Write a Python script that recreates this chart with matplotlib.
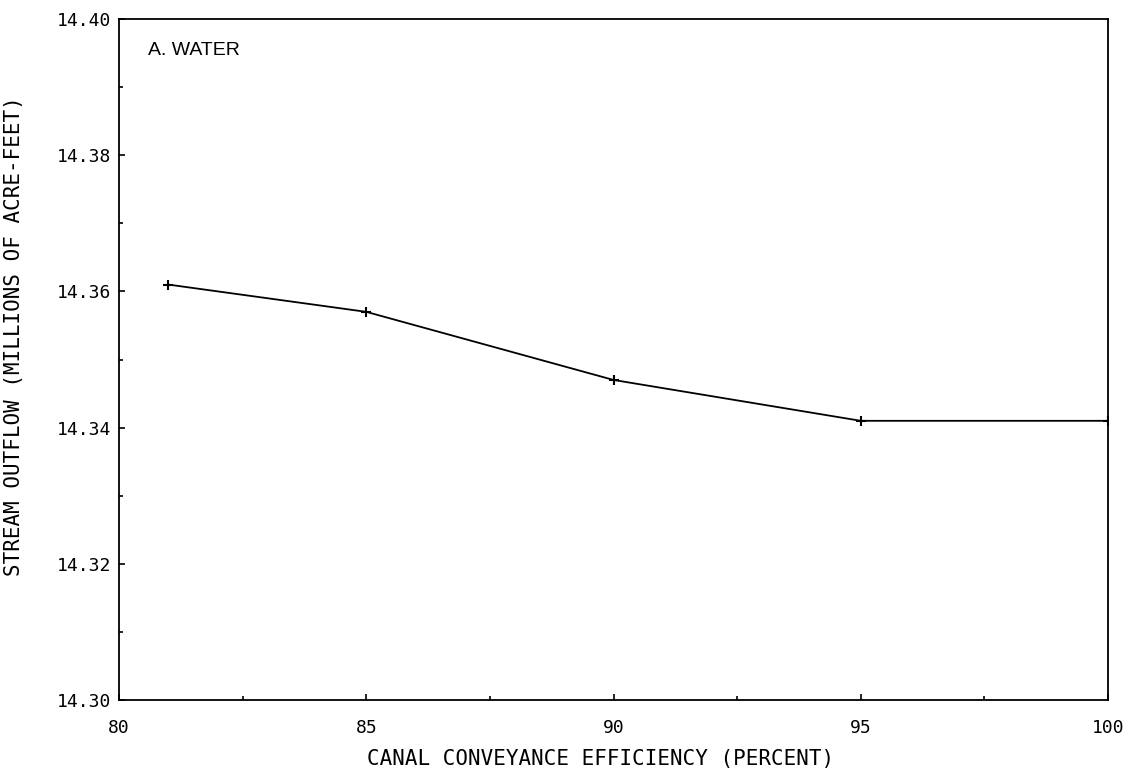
import numpy as np
import matplotlib.pyplot as plt
from matplotlib.ticker import MultipleLocator

# canal conveyance efficiency (percent) vs stream outflow (million acre-feet)
efficiency = [81, 85, 90, 95, 100]
outflow = [14.361, 14.357, 14.347, 14.341, 14.341]

mono = 'DejaVu Sans Mono'
fs = 13

fig = plt.figure(figsize=(11.37, 7.76), dpi=100)
ax = fig.add_axes([0.1047, 0.0979, 0.8698, 0.8776])

ax.plot(efficiency, outflow, color='black', lw=1.3, marker='+', ms=7, mew=1.5)

ax.set_xlim(80, 100)
ax.set_ylim(14.30, 14.40)
ax.xaxis.set_major_locator(MultipleLocator(5))
ax.xaxis.set_minor_locator(MultipleLocator(2.5))
ax.yaxis.set_major_locator(MultipleLocator(0.02))
ax.yaxis.set_minor_locator(MultipleLocator(0.01))
ax.set_yticks(ax.get_yticks(), [f'{v:.2f}' for v in ax.get_yticks()])
ax.set_ylim(14.30, 14.40)

ax.tick_params(axis='both', which='both', direction='in', labelsize=fs, width=1.2)
ax.tick_params(axis='both', which='major', length=4)
ax.tick_params(axis='both', which='minor', length=3)
ax.tick_params(axis='x', pad=14)
ax.tick_params(axis='y', pad=6)
for lab in ax.get_xticklabels() + ax.get_yticklabels():
    lab.set_family(mono)

for side in ['left', 'right', 'top', 'bottom']:
    ax.spines[side].set_linewidth(1.3)

ax.set_xlabel('CANAL CONVEYANCE EFFICIENCY (PERCENT)', family=mono, fontsize=15)
ax.set_ylabel('STREAM OUTFLOW (MILLIONS OF ACRE-FEET)', family=mono, fontsize=15)
ax.xaxis.set_label_coords(0.487, -0.072)
ax.yaxis.set_label_coords(-0.096, 0.535)

ax.text(0.029, 0.954, 'A. WATER', transform=ax.transAxes, family='Liberation Sans',
        fontsize=14, ha='left', va='center')

fig.savefig('out.png', dpi=100)
